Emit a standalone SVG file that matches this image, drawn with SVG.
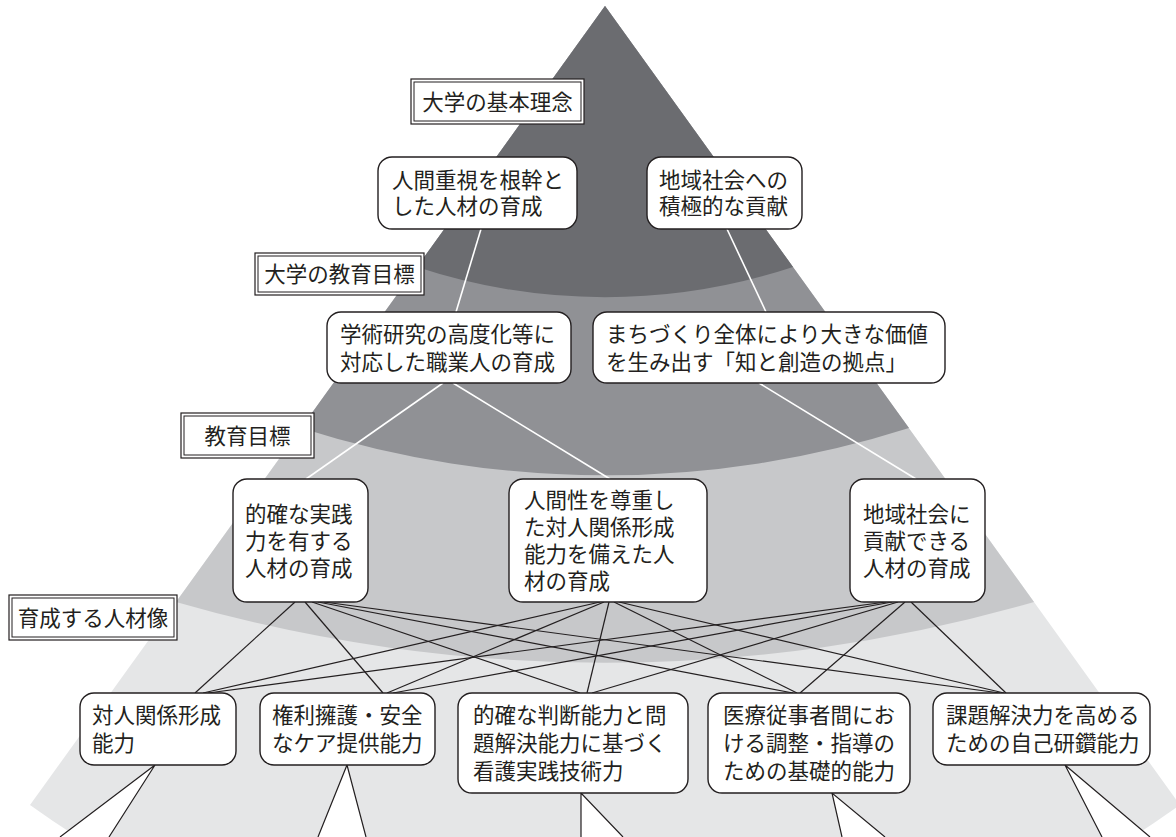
<svg xmlns="http://www.w3.org/2000/svg" width="1176" height="837" viewBox="0 0 1176 837">
<style>
text{font-family:"Noto Sans CJK JP","Noto Sans CJK SC",sans-serif;font-size:21.5px;fill:#231f20}
.nd{fill:#fff;stroke:#231f20;stroke-width:1.4}
.lo{fill:#fff;stroke:#231f20;stroke-width:1.2}
.li{fill:none;stroke:#231f20;stroke-width:1}
.wl{stroke:#fff;stroke-width:1.6;fill:none}
.bl{stroke:#231f20;stroke-width:1.2;fill:none}
.wg{fill:#fff;stroke:none}
.c{text-anchor:middle}
</style>
<rect width="1176" height="837" fill="#fff"/>
<g id="bands">
<path d="M605,6 L30,805 A984,984 0 0 0 1180,805 Z" fill="#e5e6e7"/>
<path d="M605,6 L176,602 A1546,1546 0 0 0 1034,602 Z" fill="#c7c8ca"/>
<path d="M605,6 L301,428 A1000,1000 0 0 0 909,428 Z" fill="#909195"/>
<path d="M605,6 L417,267 A600,600 0 0 0 793,267 Z" fill="#6b6c70"/>
</g>
<g id="connectors">
<line class="wl" x1="481" y1="229" x2="456" y2="312"/>
<line class="wl" x1="727" y1="229" x2="766" y2="312"/>
<line class="wl" x1="443" y1="383" x2="306" y2="479"/>
<line class="wl" x1="453" y1="383" x2="610" y2="479"/>
<line class="wl" x1="759" y1="383" x2="916" y2="479"/>
<line class="bl" x1="295" y1="602" x2="195" y2="693"/>
<line class="bl" x1="305" y1="602" x2="383" y2="693"/>
<line class="bl" x1="312" y1="602" x2="580" y2="693"/>
<line class="bl" x1="318" y1="602" x2="793" y2="693"/>
<line class="bl" x1="324" y1="602" x2="1000" y2="693"/>
<line class="bl" x1="600" y1="602" x2="203" y2="693"/>
<line class="bl" x1="604" y1="602" x2="387" y2="693"/>
<line class="bl" x1="609" y1="602" x2="587" y2="693"/>
<line class="bl" x1="614" y1="602" x2="797" y2="693"/>
<line class="bl" x1="619" y1="602" x2="1004" y2="693"/>
<line class="bl" x1="886" y1="602" x2="208" y2="693"/>
<line class="bl" x1="892" y1="602" x2="393" y2="693"/>
<line class="bl" x1="898" y1="602" x2="592" y2="693"/>
<line class="bl" x1="905" y1="602" x2="800" y2="693"/>
<line class="bl" x1="911" y1="602" x2="1006" y2="693"/>
<polygon class="wg" points="155,765 60,837 109,837"/>
<polyline class="bl" points="60,837 155,765 109,837"/>
<polygon class="wg" points="347,765 318,837 366,837"/>
<polyline class="bl" points="318,837 347,765 366,837"/>
<polygon class="wg" points="581,793 581,837 623,837"/>
<polyline class="bl" points="581,837 581,793 623,837"/>
<polygon class="wg" points="832,793 842,837 885,837"/>
<polyline class="bl" points="842,837 832,793 885,837"/>
<polygon class="wg" points="1065,765 1102,837 1150,837"/>
<polyline class="bl" points="1102,837 1065,765 1150,837"/>
</g>
<g id="label-kihon">
<rect class="lo" x="411" y="79" width="173" height="45"/>
<rect class="li" x="414" y="82" width="167" height="39"/>
<text class="c" x="497.5" y="109.5">大学の基本理念</text>
</g>
<g id="label-daigaku-mokuhyo">
<rect class="lo" x="255" y="253" width="169" height="42"/>
<rect class="li" x="258" y="256" width="163" height="36"/>
<text class="c" x="339.5" y="282">大学の教育目標</text>
</g>
<g id="label-mokuhyo">
<rect class="lo" x="181" y="413" width="133" height="45"/>
<rect class="li" x="184" y="416" width="127" height="39"/>
<text class="c" x="247.5" y="443.5">教育目標</text>
</g>
<g id="label-jinzai">
<rect class="lo" x="9" y="595" width="168" height="45"/>
<rect class="li" x="12" y="598" width="162" height="39"/>
<text class="c" x="93" y="625.5">育成する人材像</text>
</g>
<g id="node-a1">
<rect class="nd" x="378" y="157" width="199" height="72" rx="14"/>
<text x="392" y="188">人間重視を根幹と</text>
<text x="392" y="214">した人材の育成</text>
</g>
<g id="node-a2">
<rect class="nd" x="647" y="157" width="155" height="72" rx="14"/>
<text x="659" y="188">地域社会への</text>
<text x="659" y="214">積極的な貢献</text>
</g>
<g id="node-b1">
<rect class="nd" x="327" y="312" width="244" height="71" rx="14"/>
<text x="340" y="342">学術研究の高度化等に</text>
<text x="340" y="370">対応した職業人の育成</text>
</g>
<g id="node-b2">
<rect class="nd" x="593" y="312" width="352" height="71" rx="14"/>
<text x="606" y="342">まちづくり全体により大きな価値</text>
<text x="606" y="370">を生み出す「知と創造の拠点」</text>
</g>
<g id="node-c1">
<rect class="nd" x="233" y="479" width="135" height="123" rx="14"/>
<text x="245" y="521.5">的確な実践</text>
<text x="245" y="548.5">力を有する</text>
<text x="245" y="575.5">人材の育成</text>
</g>
<g id="node-c2">
<rect class="nd" x="509" y="479" width="198" height="123" rx="14"/>
<text x="524" y="508">人間性を尊重し</text>
<text x="524" y="535">た対人関係形成</text>
<text x="524" y="562">能力を備えた人</text>
<text x="524" y="589">材の育成</text>
</g>
<g id="node-c3">
<rect class="nd" x="850" y="479" width="135" height="123" rx="14"/>
<text x="863" y="521.5">地域社会に</text>
<text x="863" y="548.5">貢献できる</text>
<text x="863" y="575.5">人材の育成</text>
</g>
<g id="node-d1">
<rect class="nd" x="80" y="693" width="156" height="72" rx="14"/>
<text x="92" y="723">対人関係形成</text>
<text x="92" y="751">能力</text>
</g>
<g id="node-d2">
<rect class="nd" x="260" y="693" width="175" height="72" rx="14"/>
<text x="272" y="723">権利擁護・安全</text>
<text x="272" y="751">なケア提供能力</text>
</g>
<g id="node-d3">
<rect class="nd" x="458" y="693" width="230" height="100" rx="14"/>
<text x="473" y="723">的確な判断能力と問</text>
<text x="473" y="751">題解決能力に基づく</text>
<text x="473" y="779">看護実践技術力</text>
</g>
<g id="node-d4">
<rect class="nd" x="708" y="693" width="202" height="100" rx="14"/>
<text x="723" y="723">医療従事者間にお</text>
<text x="723" y="751">ける調整・指導の</text>
<text x="723" y="779">ための基礎的能力</text>
</g>
<g id="node-d5">
<rect class="nd" x="933" y="693" width="217" height="72" rx="14"/>
<text x="946" y="723">課題解決力を高める</text>
<text x="946" y="751">ための自己研鑽能力</text>
</g>
</svg>
